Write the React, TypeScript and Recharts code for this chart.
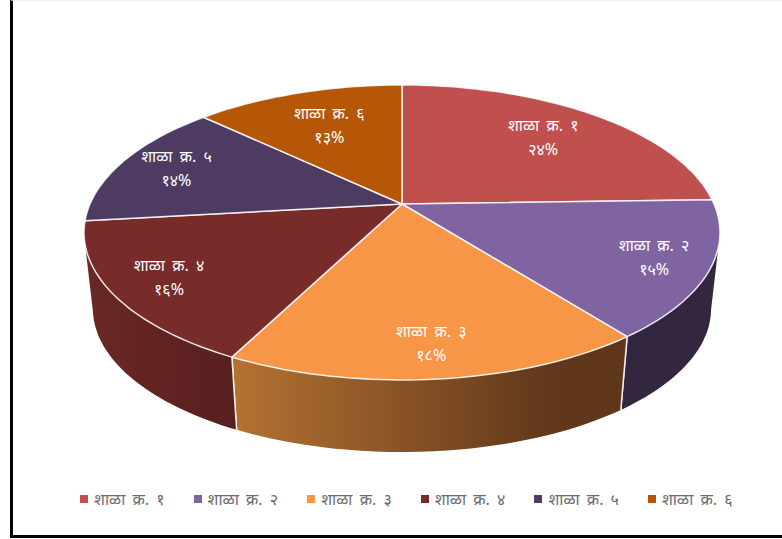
import { Legend, Pie, PieChart } from "recharts";

const schools = ["शाळा क्र. १", "शाळा क्र. २", "शाळा क्र. ३", "शाळा क्र. ४", "शाळा क्र. ५", "शाळा क्र. ६"];
const shares = [24.49, 15, 17.9, 15.7, 14, 12.8];
const topColors = ["#C0504D", "#8064A2", "#F79646", "#772C2A", "#4D3B62", "#B65708"];
const wallFills = ["#322540", "#33263F", "url(#wall3)", "url(#wall4)", "#2e233c", "#6e3505"];
const labelRadius = [0.74, 0.82, 0.8, 0.81, 0.81, 0.7];

const data = schools.map((name, i) => ({ name, value: shares[i] }));

const devanagariDigits = "०१२३४५६७८९";
const toDevanagari = (n: number) =>
  String(n).replace(/\d/g, (d) => devanagariDigits[Number(d)]);

// the original is a tilted 3D pie, so the circle gets a perspective projection
const TILT = 0.193;
const SQUASH = 142 / 312;
const WALL_SCALE = 0.972;
const WALL_DROP = 77;
const EDGE = "rgba(255,255,255,0.85)";

const project = (cx: number, cy: number, r: number, deg: number, scale = 1, drop = 0) => {
  const a = (deg * Math.PI) / 180;
  const u = Math.cos(a);
  const v = -Math.sin(a);
  const w = 1 - TILT * v;
  return [cx + (scale * r * u) / w, cy + drop + (scale * r * SQUASH * v) / w];
};

const arcAngles = (p: any) => {
  const steps = Math.max(2, Math.ceil(Math.abs(p.endAngle - p.startAngle) / 1.5));
  return Array.from({ length: steps + 1 }, (_, i) => p.startAngle + ((p.endAngle - p.startAngle) * i) / steps);
};

const toPath = (points: number[][]) =>
  points.map((pt, i) => `${i ? "L" : "M"}${pt[0].toFixed(1)},${pt[1].toFixed(1)}`).join(" ");

const TopFace = (p: any) => {
  const rim = arcAngles(p).map((deg) => project(p.cx, p.cy, p.outerRadius, deg));
  return (
    <path
      d={`M${p.cx},${p.cy} ${toPath(rim).replace("M", "L")} Z`}
      fill={p.fill}
      stroke={EDGE}
      strokeWidth={1.5}
      strokeLinejoin="round"
    />
  );
};

// only the part of the wall that faces the viewer gets drawn
const isFront = (deg: number) => -Math.sin((deg * Math.PI) / 180) >= TILT;

const Wall = (p: any) => {
  const angles = arcAngles(p).filter(isFront);
  if (angles.length < 2) return <g />;
  const upper = angles.map((deg) => project(p.cx, p.cy, p.outerRadius, deg));
  const lower = angles.map((deg) => project(p.cx, p.cy, p.outerRadius, deg, WALL_SCALE, WALL_DROP)).reverse();
  const edges = [p.startAngle, p.endAngle].filter(isFront).map((deg) => {
    const line = [
      project(p.cx, p.cy, p.outerRadius, deg),
      project(p.cx, p.cy, p.outerRadius, deg, WALL_SCALE, WALL_DROP),
    ];
    return <path key={deg} d={toPath(line)} stroke={EDGE} strokeWidth={1.5} fill="none" />;
  });
  return (
    <g>
      <path d={`${toPath(upper)} ${toPath(lower).replace("M", "L")} Z`} fill={p.fill} />
      {edges}
    </g>
  );
};

const SliceLabel = (p: any) => {
  const [x, y] = project(p.cx, p.cy, p.outerRadius * labelRadius[p.index], p.midAngle);
  return (
    <text x={x} y={y} fill="#fff" fontSize={16} textAnchor="middle" style={{ wordSpacing: 3 }}>
      <tspan x={x} dy={-7}>{p.name}</tspan>
      <tspan x={x} dy={24}>{toDevanagari(Math.round(p.value))}%</tspan>
    </text>
  );
};

const LegendRow = ({ payload }: any) => (
  <div style={{ display: "flex", position: "absolute", left: 80, top: 487, height: 24 }}>
    {(payload || [])
      .filter((entry: any) => entry.type !== "none")
      .map((entry: any) => (
        <div key={entry.value} style={{ width: 113.6, display: "flex", alignItems: "center", whiteSpace: "nowrap" }}>
          <span style={{ width: 8, height: 8, background: entry.color, marginRight: 6, flex: "none" }} />
          <span style={{ color: "#6b6b6b", fontSize: 16, wordSpacing: 3 }}>{entry.value}</span>
        </div>
      ))}
  </div>
);

export default function App() {
  const cells = data.map((d, i) => ({ ...d, fill: topColors[i] }));
  const walls = data.map((d, i) => ({ ...d, fill: wallFills[i] }));
  return (
    <div style={{ position: "absolute", left: 0, top: 0, width: 782, height: 539, overflow: "hidden", background: "#fff", fontFamily: "'Noto Sans', 'Noto Sans Devanagari', 'Lohit Devanagari', sans-serif" }}>
      <div style={{ position: "absolute", boxSizing: "border-box", left: 10, top: 0, width: 790, height: 538, borderLeft: "3px solid #000", borderBottom: "3px solid #000", borderTop: "1px solid #eee" }} />
      <PieChart width={782} height={539} margin={{ top: 0, right: 0, bottom: 0, left: 0 }} style={{ position: "absolute", left: 0, top: 0 }}>
        <defs>
          <linearGradient id="wall3" gradientUnits="userSpaceOnUse" x1="233" y1="0" x2="626" y2="0">
            <stop offset="0%" stopColor="#B47232" />
            <stop offset="80%" stopColor="#61381B" />
            <stop offset="100%" stopColor="#5E361A" />
          </linearGradient>
          <linearGradient id="wall4" gradientUnits="userSpaceOnUse" x1="85" y1="0" x2="238" y2="0">
            <stop offset="0%" stopColor="#6A2826" />
            <stop offset="100%" stopColor="#561F1E" />
          </linearGradient>
        </defs>
        <Pie
          data={walls}
          dataKey="value"
          nameKey="name"
          cx={402}
          cy={204}
          outerRadius={312}
          startAngle={90}
          endAngle={-270}
          shape={Wall}
          legendType="none"
          stroke="none"
          isAnimationActive={false}
        />
        <Pie
          data={cells}
          dataKey="value"
          nameKey="name"
          cx={402}
          cy={204}
          outerRadius={312}
          startAngle={90}
          endAngle={-270}
          shape={TopFace}
          label={SliceLabel}
          labelLine={false}
          isAnimationActive={false}
        />
        <Legend content={LegendRow} wrapperStyle={{ position: "absolute", left: 0, top: 0, bottom: "auto", width: 782, height: 0 }} />
      </PieChart>
    </div>
  );
}
